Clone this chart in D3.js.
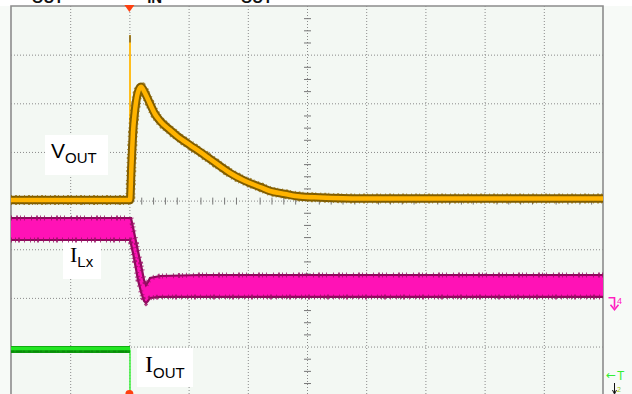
<!DOCTYPE html>
<html><head><meta charset="utf-8">
<script src="https://cdn.jsdelivr.net/npm/d3@7"></script>
<style>html,body{margin:0;padding:0;background:#f7faf7;overflow:hidden}</style>
</head><body><svg id="c" width="632" height="394"></svg>
<script>
// ---- data (screen divisions; time 0 = trigger) ----
const timeDivs = [-2,-1,0,1,2,3,4,5,6,7,8];
const levelDivs = [-4,-3,-2,-1,0,1,2,3,4];
const headerLabels = [{t:-1.65, s:"OUT"}, {t:0.3, s:"IN"}, {t:1.88, s:"OUT"}];
const voutT = [-2,-1,0,0.01,0.035,0.06,0.095,0.145,0.196,0.264,0.348,0.432,0.517,0.686,0.804,1.024,1.193,1.361,1.53,1.699,1.953,2.206,2.375,2.628,2.882,3.22,3.895,5,6.5,8];
const voutV = [0.01,0.01,0.01,0.01,0.73,1.39,1.86,2.23,2.34,2.21,1.99,1.78,1.64,1.45,1.33,1.14,1.0,0.855,0.71,0.567,0.403,0.28,0.197,0.136,0.084,0.064,0.043,0.043,0.043,0.043];
const voutSpike = [0.01, 3.40];
const ilxT  = [-2,-1,0.01,0.027,0.078,0.145,0.196,0.247,0.28,0.314,0.348,0.517,1.193,3,5,8];
const ilxHi = [-0.358,-0.358,-0.358,-0.358,-0.645,-1.036,-1.324,-1.632,-1.735,-1.673,-1.591,-1.55,-1.529,-1.529,-1.529,-1.529];
const ilxLo = [-0.81,-0.81,-0.81,-0.892,-1.18,-1.632,-1.879,-2.064,-2.105,-2.064,-2.002,-1.98,-1.98,-1.98,-1.98,-1.98];
const ioutT = [-2,-1,0.01];
const ioutV = [-3.06,-3.06,-3.06];
const ioutDrop = [-3.06,-4.2];

const svg = d3.select("#c");
const x = d3.scaleLinear().domain([-2,8]).range([11,603]);
const y = d3.scaleLinear().domain([-4,4]).range([395.2,6]);

// backgrounds
svg.append("rect").attr("x",0).attr("y",0).attr("width",632).attr("height",6).attr("fill","#ffffff");
svg.append("rect").attr("x",x(-2)).attr("y",y(4)).attr("width",x(8)-x(-2)).attr("height",y(-4)-y(4)).attr("fill","#f3f8f3");

// grid
const g = svg.append("g");
g.selectAll(".vg").data(timeDivs.slice(1,-1)).join("line")
 .attr("x1",d=>x(d)+0.5).attr("x2",d=>x(d)+0.5).attr("y1",y(4)).attr("y2",y(-4))
 .attr("stroke","#8a8a8a").attr("stroke-width",1).attr("stroke-dasharray","1,2");
g.selectAll(".hg").data(levelDivs.slice(1,-1)).join("line")
 .attr("y1",d=>y(d)+0.5).attr("y2",d=>y(d)+0.5).attr("x1",x(-2)).attr("x2",x(8))
 .attr("stroke","#8a8a8a").attr("stroke-width",1).attr("stroke-dasharray","1,2");
// center minor ticks
const minorX = d3.range(-2,8.001,0.2).filter(v=>Math.abs(v-Math.round(v))>1e-6);
const minorY = d3.range(-4,4.001,0.25).filter(v=>Math.abs(v-Math.round(v))>1e-6);
g.selectAll(".mx").data(minorX).join("line")
 .attr("x1",d=>x(d)+0.5).attr("x2",d=>x(d)+0.5).attr("y1",y(0)-3).attr("y2",y(0)+4)
 .attr("stroke","#777").attr("stroke-width",1);
g.selectAll(".my").data(minorY).join("line")
 .attr("y1",d=>y(d)+0.5).attr("y2",d=>y(d)+0.5).attr("x1",x(3)-3).attr("x2",x(3)+4)
 .attr("stroke","#777").attr("stroke-width",1);

// frame
svg.append("path").attr("d",`M${x(-2)},${y(-4)}V${y(4)}H${x(8)}V${y(-4)}`)
 .attr("fill","none").attr("stroke","#8c8c8c").attr("stroke-width",1.6);

// header labels (cut off at the top edge, as in the capture)
svg.selectAll(".hl").data(headerLabels).join("text")
 .attr("x",d=>x(d.t)).attr("y",2.5).text(d=>d.s)
 .attr("font-family","Liberation Sans, Arial, sans-serif").attr("font-weight","bold").attr("font-size",15).attr("fill","#111");

// label boxes
function label(bx,by,bw,bh,main,mainFont,mainSize,sub,subSize,tx,ty,subDy){
  svg.append("rect").attr("x",bx).attr("y",by).attr("width",bw).attr("height",bh).attr("fill","#fff");
  const t = svg.append("text").attr("x",tx).attr("y",ty).attr("fill","#000");
  t.append("tspan").attr("font-family",mainFont).attr("font-size",mainSize).text(main);
  t.append("tspan").attr("font-family","Liberation Sans, Arial, sans-serif").attr("font-size",subSize).attr("dy",subDy).text(sub);
}
label(45,135,63,40,"V","Liberation Sans, Arial, sans-serif",21,"OUT",15,51,158,4.5);
label(63,239,38,40,"I","Liberation Serif, Times New Roman, serif",22,"Lx",15,70,261.5,5.5);
label(137,348,56,39,"I","Liberation Serif, Times New Roman, serif",24,"OUT",15,145,372,6);

// ILx trace (band)
const ilx = ilxT.map((t,i)=>({t, hi:ilxHi[i], lo:ilxLo[i]}));
svg.append("path").datum(ilx)
 .attr("d", d3.area().x(d=>x(d.t)).y0(d=>y(d.lo)).y1(d=>y(d.hi)))
 .attr("fill","#ff12b6");
const lineHi = d3.line().x(d=>x(d.t)).y(d=>y(d.hi));
const lineLo = d3.line().x(d=>x(d.t)).y(d=>y(d.lo));
[lineHi,lineLo].forEach((ln,k)=>{
  svg.append("path").datum(ilx).attr("d",ln).attr("fill","none")
   .attr("stroke","#8e0a5c").attr("stroke-width",2.2);
  svg.append("path").datum(ilx).attr("d",ln).attr("fill","none")
   .attr("stroke","#9a1066").attr("stroke-width",5).attr("stroke-opacity",0.8)
   .attr("stroke-dasharray", k? "1,3,1,2,2,4,1,5" : "1,4,2,2,1,3,1,6");
});

// VOUT trace
const vout = voutT.map((t,i)=>({t, v:voutV[i]}));
const vLine = d3.line().x(d=>x(d.t)).y(d=>y(d.v)).curve(d3.curveMonotoneX);
svg.append("line").attr("x1",x(voutSpike[0])).attr("x2",x(voutSpike[0]))
 .attr("y1",y(0.01)).attr("y2",y(voutSpike[1])).attr("stroke","#ffbe1e").attr("stroke-width",2);
svg.append("line").attr("x1",x(voutSpike[0])).attr("x2",x(voutSpike[0]))
 .attr("y1",y(voutSpike[1]-0.15)).attr("y2",y(voutSpike[1])).attr("stroke","#9a7a28").attr("stroke-width",2);
svg.append("path").datum(vout).attr("d",vLine).attr("fill","none")
 .attr("stroke","#7e5c00").attr("stroke-width",8.5).attr("stroke-linejoin","round");
svg.append("path").datum(vout).attr("d",vLine).attr("fill","none")
 .attr("stroke","#8a6400").attr("stroke-width",10).attr("stroke-opacity",0.7)
 .attr("stroke-dasharray","1,3,2,2,1,4");
svg.append("path").datum(vout).attr("d",vLine).attr("fill","none")
 .attr("stroke","#ffb300").attr("stroke-width",4.5).attr("stroke-linejoin","round");

// IOUT trace
const iout = ioutT.map((t,i)=>({t, v:ioutV[i]}));
const iLine = d3.line().x(d=>x(d.t)).y(d=>y(d.v));
svg.append("line").attr("x1",x(ioutT[2])).attr("x2",x(ioutT[2]))
 .attr("y1",y(ioutDrop[0])).attr("y2",y(ioutDrop[1])).attr("stroke","#3cf03c").attr("stroke-width",1.5);
svg.append("path").datum(iout).attr("d",iLine).attr("fill","none").attr("stroke","#0d9a0d").attr("stroke-width",7);
svg.append("path").datum(iout).attr("d",iLine).attr("fill","none").attr("stroke","#22e622").attr("stroke-width",3.5)
 .attr("transform","translate(0,-1)");
svg.append("path").datum(iout).attr("d",iLine).attr("fill","none").attr("stroke","#0a8a0a").attr("stroke-width",1.5)
 .attr("stroke-dasharray","3,2,6,1,2,3").attr("transform","translate(0,2)");

// trigger markers
const tx0 = x(0);
svg.append("path").attr("d",`M${tx0-5},${y(4)-1}L${tx0+5},${y(4)-1}L${tx0},${y(4)+6}Z`).attr("fill","#ff4010");
svg.append("circle").attr("cx",tx0).attr("cy",394).attr("r",4).attr("fill","#ff4010");

// right side markers
const mY = y(-2.1);
svg.append("path").attr("d",`M608.5,${mY-5}H614.5V${mY+5}`).attr("fill","none").attr("stroke","#ff20c0").attr("stroke-width",1.6);
svg.append("path").attr("d",`M610.5,${mY+2}L614.5,${mY+7}L618.5,${mY+2}`).attr("fill","none").attr("stroke","#ff20c0").attr("stroke-width",1.6);
svg.append("text").attr("x",617).attr("y",mY+1).attr("font-family","Liberation Sans, Arial, sans-serif").attr("font-size",9).attr("fill","#ff20c0").text("4");
svg.append("text").attr("x",606).attr("y",379).attr("font-family","DejaVu Sans, sans-serif").attr("font-size",12).attr("fill","#33ee33").text("←");
svg.append("text").attr("x",617).attr("y",380).attr("font-family","Liberation Sans, Arial, sans-serif").attr("font-size",12).attr("fill","#33ee33").text("T");
svg.append("path").attr("d","M614.5,383V393M612.5,390L614.5,394L616.5,390").attr("fill","none").attr("stroke","#111").attr("stroke-width",1);
svg.append("text").attr("x",617).attr("y",392).attr("font-family","Liberation Sans, Arial, sans-serif").attr("font-size",7).attr("fill","#99cc00").text("2");
</script></body></html>
